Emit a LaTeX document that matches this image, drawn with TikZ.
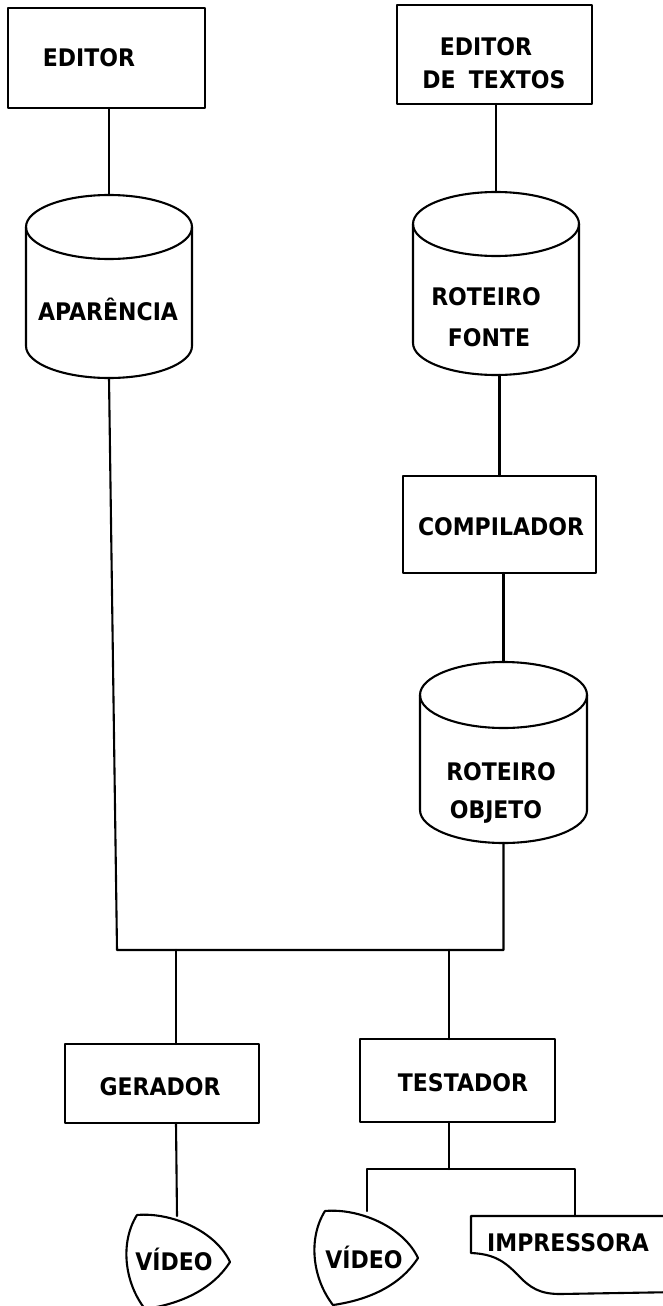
\documentclass[tikz,border=0pt]{standalone}
\usepackage{fontspec}
\newfontfamily\lett{DejaVu Sans}
\usetikzlibrary{calc}

% outline of a storage drum: #1 node name, #2 x radius, #3 y radius (pt)
\newcommand\drum[3]{%
  \draw[ln] ([yshift=-#3pt]#1.north west)
    arc[start angle=180, delta angle=360, x radius=#2pt, y radius=#3pt];
  \draw[ln] ([yshift=-#3pt]#1.north west) -- ([yshift=#3pt]#1.south west)
    arc[start angle=180, end angle=360, x radius=#2pt, y radius=#3pt]
    -- ([yshift=-#3pt]#1.north east);
}
% tall hand lettering
\newcommand\tall[1]{\scalebox{1}[1.1]{#1}}

\tikzset{
  ln/.style={line width=2.1pt, black, line join=round, line cap=round},
  box/.style={draw, ln, rectangle, inner sep=0pt, outer sep=0pt},
  drumbox/.style={rectangle, draw=none, inner sep=0pt, outer sep=0pt},
  lbl/.style={inner sep=0pt, anchor=center, font=\lett\bfseries\fontsize{22pt}{24pt}\selectfont,
              text height=17.6pt, text depth=0pt, black},
}

\begin{document}
\begin{tikzpicture}[x=1pt, y=-1pt]
\useasboundingbox (0,0) rectangle (663,1306);
\clip (0,0) rectangle (663,1306);
\fill[white] (0,0) rectangle (663,1306);

% ---- top row: editors
\node[box, minimum width=197pt, minimum height=100pt] (editor) at (106.5,58) {};
\node[lbl] (editorT) at (89,58) {\tall{EDITOR}};

\node[box, minimum width=195pt, minimum height=99pt] (edtxt) at (494.5,54.5) {};
\node[lbl] (edtxtA) at (486,47) {\tall{EDITOR}};
\node[lbl] (edtxtB) at (494,80) {\tall{DE\hspace{0.6em}TEXTOS}};

% ---- storage drums
\node[drumbox, minimum width=166pt, minimum height=183pt] (ap) at (109,286.5) {};
\drum{ap}{83}{32}
\node[lbl] (apT) at (108,312) {\tall{APARÊNCIA}};

\node[drumbox, minimum width=166pt, minimum height=183pt] (fonte) at (496,283.5) {};
\drum{fonte}{83}{32}
\node[lbl] (fonteA) at (486,297) {\tall{ROTEIRO}};
\node[lbl] (fonteB) at (489,338) {\tall{FONTE}};

\node[box, minimum width=193pt, minimum height=97pt] (comp) at (499.5,524.5) {};
\node[lbl] (compT) at (501,527) {\tall{COMPILADOR}};

\node[drumbox, minimum width=167pt, minimum height=181pt] (obj) at (503.5,752.5) {};
\drum{obj}{83.5}{33}
\node[lbl] (objA) at (501,772) {\tall{ROTEIRO}};
\node[lbl] (objB) at (496,810) {\tall{OBJETO}};

% ---- processors
\node[box, minimum width=194pt, minimum height=79pt] (ger) at (162,1083.5) {};
\node[lbl] (gerT) at (160,1087) {\tall{GERADOR}};

\node[box, minimum width=195pt, minimum height=83pt] (tes) at (457.5,1080.5) {};
\node[lbl] (tesT) at (463,1083) {\tall{TESTADOR}};

% ---- output devices
\draw[ln] (137,1215) .. controls (170,1212) and (215,1230) .. (230,1262)
  .. controls (212,1290) and (180,1304) .. (145,1309)
  .. controls (124,1282) and (120,1242) .. (137,1215);
\node[lbl] (vid1) at (174,1262) {\tall{VÍDEO}};

\draw[ln] (325,1211) .. controls (358,1208) and (403,1226) .. (418,1258)
  .. controls (400,1286) and (368,1300) .. (333,1305)
  .. controls (312,1278) and (308,1238) .. (325,1211);
\node[lbl] (vid2) at (364,1260) {\tall{VÍDEO}};

\draw[ln] (471,1216) -- (680,1216) -- (680,1292) -- (560,1294)
  .. controls (540,1294) and (530,1288) .. (518,1275)
  .. controls (505,1262) and (495,1254) .. (471,1253) -- cycle;
\node[lbl] (impT) at (568,1243) {\tall{IMPRESSORA}};

% ---- junction points
\coordinate (busL) at (117,950);
\coordinate (gtap) at (176,950);
\coordinate (ttap) at (449,950);
\coordinate (split) at (449,1169);
\coordinate (v1top) at (177,1216);
\coordinate (v2top) at (367,1211);
\coordinate (imptop) at (575,1216);

% ---- connectors
\draw[ln] (ap.north |- editor.south) -- (ap.north);
\draw[ln] (fonte.north |- edtxt.south) -- (fonte.north);
\draw[ln] (comp.north |- fonte.south) -- (comp.north);
\draw[ln] (obj.north |- comp.south) -- (obj.north);
\draw[ln] (ap.south) -- (busL) -- (busL -| obj.south) -- (obj.south);
\draw[ln] (gtap) -- (gtap |- ger.north);
\draw[ln] (ttap) -- (ttap |- tes.north);
\draw[ln] (gtap |- ger.south) -- (v1top);
\draw[ln] (ttap |- tes.south) -- (split);
\draw[ln] (v2top) |- (split) -| (imptop);
\end{tikzpicture}
\end{document}
